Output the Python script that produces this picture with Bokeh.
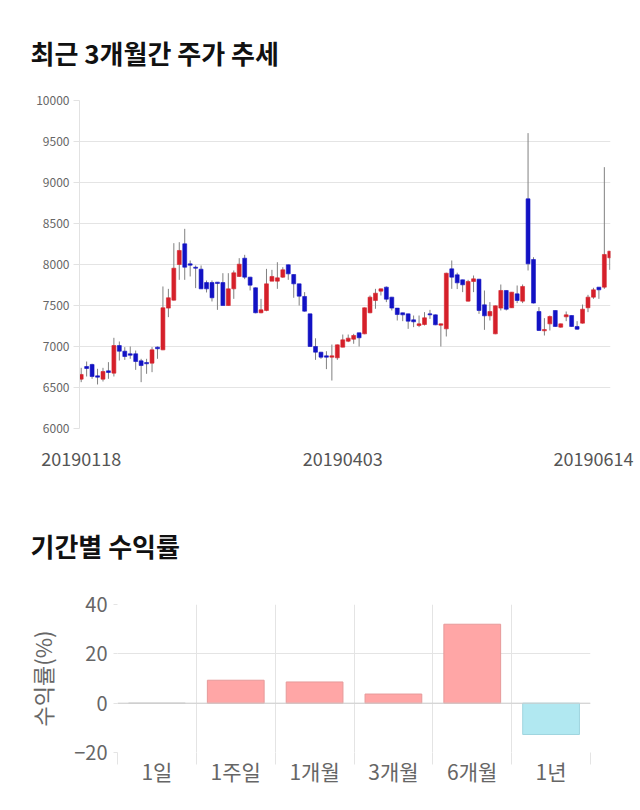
from bokeh.plotting import figure
from bokeh.models import ColumnDataSource, FixedTicker, Range1d, Span
from bokeh.layouts import column, row
from bokeh.embed import file_html
from bokeh.resources import INLINE

# ---- daily prices (last 3 months) ----
opens = [6602, 6756, 6781, 6642, 6602, 6703, 6675, 7012, 6943, 6911,
         6911, 6825, 6805, 6797, 6992, 6959, 7468, 7565, 8000, 8252,
         8008, 7967, 7943, 7780, 7780, 7785, 7780, 7500, 7703, 7854,
         8077, 7846, 7716, 7411, 7439, 7797, 7797, 7846, 7996, 7878,
         7764, 7610, 7398, 7000, 6931, 6886, 6870, 6862, 6992, 7065,
         7089, 7167, 7154, 7411, 7561, 7675, 7724, 7602, 7468, 7411,
         7398, 7325, 7256, 7268, 7398, 7386, 7260, 7215, 7947, 7874,
         7813, 7553, 7793, 7821, 7508, 7374, 7154, 7468, 7683, 7472,
         7642, 7553, 8801, 8061, 7427, 7191, 7276, 7439, 7236, 7362,
         7378, 7244, 7285, 7472, 7602, 7724, 7724, 8081]
highs = [6740, 6817, 6790, 6728, 6740, 6809, 7106, 7061, 6992, 7000,
         6951, 6850, 6850, 6992, 7000, 7732, 7703, 8260, 8272, 8435,
         8049, 7988, 7988, 7805, 7805, 7785, 7894, 7894, 7927, 8077,
         8118, 7850, 7720, 7581, 7947, 7935, 8028, 7967, 8000, 7880,
         7765, 7663, 7400, 7100, 6935, 6943, 7024, 7024, 7146, 7146,
         7154, 7170, 7475, 7622, 7703, 7705, 7732, 7605, 7470, 7412,
         7400, 7378, 7378, 7419, 7447, 7390, 7280, 7900, 8049, 7900,
         7815, 7813, 7866, 7825, 7683, 7541, 7500, 7756, 7685, 7665,
         7744, 7756, 9602, 8089, 7480, 7346, 7378, 7440, 7280, 7427,
         7380, 7309, 7512, 7630, 7716, 7725, 9187, 8165]
lows = [6565, 6634, 6606, 6537, 6573, 6606, 6634, 6829, 6837, 6850,
        6715, 6565, 6667, 6687, 6850, 6955, 7358, 7560, 7813, 7813,
        7854, 7712, 7700, 7659, 7549, 7447, 7500, 7496, 7581, 7850,
        7821, 7683, 7405, 7405, 7430, 7797, 7703, 7837, 7813, 7594,
        7500, 7425, 6995, 6837, 6850, 6724, 6585, 6837, 6990, 7053,
        7033, 7000, 7150, 7405, 7460, 7622, 7541, 7439, 7317, 7309,
        7215, 7236, 7236, 7256, 7337, 7260, 7000, 7122, 7703, 7700,
        7663, 7549, 7663, 7398, 7203, 7317, 7150, 7439, 7439, 7470,
        7529, 7529, 7927, 7525, 7190, 7134, 7195, 7240, 7230, 7309,
        7240, 7205, 7280, 7419, 7581, 7581, 7703, 7935]
closes = [6659, 6732, 6634, 6626, 6695, 6683, 7012, 6943, 6878, 6894,
          6817, 6768, 6789, 6959, 6972, 7472, 7594, 7955, 8171, 7967,
          7992, 7955, 7703, 7703, 7594, 7768, 7500, 7703, 7898, 8004,
          7846, 7748, 7411, 7447, 7764, 7854, 7837, 7935, 7886, 7764,
          7614, 7431, 7000, 6931, 6870, 6870, 6886, 7020, 7081, 7102,
          7134, 7106, 7472, 7602, 7650, 7703, 7577, 7468, 7390, 7386,
          7309, 7301, 7276, 7350, 7386, 7264, 7276, 7894, 7846, 7776,
          7752, 7793, 7825, 7439, 7374, 7427, 7496, 7683, 7455, 7663,
          7561, 7732, 8008, 7529, 7195, 7207, 7366, 7244, 7276, 7386,
          7244, 7211, 7455, 7602, 7691, 7691, 8122, 8163]
date_ticks = [0, 48, 94]
date_labels = ["20190118", "20190403", "20190614"]
price_ticks = [6000, 6500, 7000, 7500, 8000, 8500, 9000, 9500, 10000]

# ---- returns by period ----
periods = ["1일", "1주일", "1개월", "3개월", "6개월", "1년"]
returns = [0.0, 9.3, 8.6, 3.7, 32.0, -12.7]
return_ticks = [-20, 0, 20, 40]

FONT = "Noto Sans CJK KR"
RED = "#d5202a"
BLUE = "#1212c4"

idx = list(range(len(opens)))
src = ColumnDataSource(dict(
    x=idx, high=highs, low=lows,
    top=[max(o, c) for o, c in zip(opens, closes)],
    bottom=[min(o, c) for o, c in zip(opens, closes)],
    color=[RED if c >= o else BLUE for o, c in zip(opens, closes)],
))

p1 = figure(width=640, height=475, output_backend="svg", toolbar_location=None,
            x_range=Range1d(-0.31, len(opens) - 1 + 0.13), y_range=Range1d(6000, 10000),
            min_border_left=79, min_border_right=30, min_border_top=100, min_border_bottom=47)
p1.title.text = "최근 3개월간 주가 추세"
p1.title.text_font = FONT
p1.title.text_font_size = "26px"
p1.title.text_font_style = "bold"
p1.title.text_color = "#111111"
p1.title.align = "left"
p1.title.offset = -49
p1.title.standoff = 59
p1.outline_line_color = None
p1.background_fill_color = "white"
p1.border_fill_color = "white"

p1.segment(x0="x", y0="low", x1="x", y1="high", source=src, line_color="#808080", line_width=1)
p1.vbar(x="x", width=0.72, top="top", bottom="bottom", source=src,
        fill_color="color", line_color="color", line_width=0.6)

p1.yaxis.ticker = FixedTicker(ticks=price_ticks)
p1.yaxis.major_label_text_font = FONT
p1.yaxis.major_label_text_font_size = "12px"
p1.yaxis.major_label_text_color = "#666666"
p1.yaxis.major_tick_out = 6
p1.yaxis.major_tick_in = 0
p1.yaxis.major_tick_line_color = "#e2e2e2"
p1.yaxis.minor_tick_line_color = None
p1.yaxis.axis_line_color = "#e2e2e2"
p1.yaxis.major_label_standoff = 4

p1.xaxis.ticker = FixedTicker(ticks=date_ticks)
p1.xaxis.major_label_overrides = {t: l for t, l in zip(date_ticks, date_labels)}
p1.xaxis.major_label_text_font = FONT
p1.xaxis.major_label_text_font_size = "18px"
p1.xaxis.major_label_text_color = "#555555"
p1.xaxis.major_tick_line_color = None
p1.xaxis.major_tick_out = 0
p1.xaxis.minor_tick_line_color = None
p1.xaxis.axis_line_color = None
p1.xaxis.major_label_standoff = 23

p1.xgrid.grid_line_color = None
p1.ygrid.grid_line_color = "#e4e4e4"

# ---- bottom chart ----
bx = [i + 0.5 for i in range(len(periods))]
bsrc = ColumnDataSource(dict(
    x=bx, top=returns, bottom=[0] * len(returns),
    fill=["#ffa6a6" if r >= 0 else "#b1e8f1" for r in returns],
    line=["#e69a9a" if r > 0 else ("#9fd5df" if r < 0 else "#cfcfcf") for r in returns],
))

p2 = figure(width=640, height=335, output_backend="svg", toolbar_location=None,
            x_range=Range1d(0, len(periods)), y_range=Range1d(-20, 40),
            min_border_left=117, min_border_right=50, min_border_top=129, min_border_bottom=58)
p2.title.text = "기간별 수익률"
p2.title.text_font = FONT
p2.title.text_font_size = "26px"
p2.title.text_font_style = "bold"
p2.title.text_color = "#111111"
p2.title.align = "left"
p2.title.offset = -87
p2.title.standoff = 82
p2.outline_line_color = None

p2.vbar(x="x", width=0.72, top="top", bottom="bottom", source=bsrc,
        fill_color="fill", line_color="line", line_width=1)
p2.add_layout(Span(location=0, dimension="width", line_color="#cfcfcf", line_width=1))

p2.xaxis.ticker = FixedTicker(ticks=bx, minor_ticks=list(range(len(periods) + 1)))
p2.xaxis.major_label_overrides = {x: l for x, l in zip(bx, periods)}
p2.xaxis.major_label_text_font = FONT
p2.xaxis.major_label_text_font_size = "21px"
p2.xaxis.major_label_text_color = "#666666"
p2.xaxis.major_tick_line_color = None
p2.xaxis.major_tick_out = 0
p2.xaxis.minor_tick_line_color = "#e4e4e4"
p2.xaxis.minor_tick_out = 12
p2.xaxis.minor_tick_in = 0
p2.xaxis.axis_line_color = None
p2.xaxis.major_label_standoff = -9

p2.yaxis.ticker = FixedTicker(ticks=return_ticks)
p2.yaxis.major_label_text_font = FONT
p2.yaxis.major_label_text_font_size = "20px"
p2.yaxis.major_label_text_color = "#666666"
p2.yaxis.major_tick_out = 4
p2.yaxis.major_tick_in = 0
p2.yaxis.major_tick_line_color = "#e4e4e4"
p2.yaxis.minor_tick_line_color = None
p2.yaxis.axis_line_color = None
p2.yaxis.major_label_standoff = 6
p2.yaxis.axis_label = "수익률(%)"
p2.yaxis.axis_label_text_font = FONT
p2.yaxis.axis_label_text_font_size = "22px"
p2.yaxis.axis_label_text_font_style = "normal"
p2.yaxis.axis_label_text_color = "#666666"
p2.yaxis.axis_label_standoff = 13

p2.xgrid.ticker = FixedTicker(ticks=list(range(len(periods) + 1)))
p2.xgrid.grid_line_color = "#e4e4e4"
p2.ygrid.grid_line_color = "#e4e4e4"

layout = column(row(p1), row(p2), spacing=0)
open("out.html", "w").write(file_html(layout, INLINE))
